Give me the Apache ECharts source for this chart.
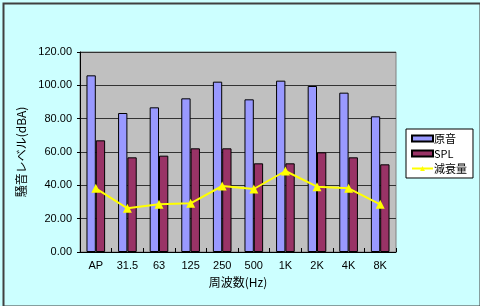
<!DOCTYPE html>
<html><head><meta charset="utf-8">
<script src="https://cdn.jsdelivr.net/npm/echarts@6/dist/echarts.min.js"></script>
<style>html,body{margin:0;padding:0;background:#CCFFFF;}#c{width:480px;height:306px;}</style>
</head><body><div id="c"></div>
<script>
const categories = ['AP','31.5','63','125','250','500','1K','2K','4K','8K'];
const original = [106.0, 83.4, 86.8, 92.2, 102.2, 91.6, 102.8, 99.6, 95.6, 81.4];
const spl = [67.0, 56.8, 57.8, 62.2, 62.2, 53.2, 53.2, 59.8, 56.8, 52.6];
const attenuation = [38.2, 26.2, 28.6, 29.2, 39.6, 37.8, 48.6, 39.2, 38.2, 28.6];
const seriesNames = ['原音','SPL','減衰量'];
const yTicks = { min: 0, max: 120, interval: 20 };

const latin = "'Liberation Sans', Arial, 'Noto Sans CJK JP', sans-serif";
const cjk = "'Noto Sans CJK JP', 'Liberation Sans', sans-serif";

const chart = echarts.init(document.getElementById('c'), null, {renderer:'canvas'});
chart.setOption({
  animation: false,
  backgroundColor: '#CCFFFF',
  graphic: [{
    type: 'rect', left: 1, top: 1, silent: true,
    shape: { x: 0, y: 0, width: 477, height: 303 },
    style: { fill: 'none', stroke: '#404040', lineWidth: 2 }
  }],
  grid: {
    left: 80, top: 52, width: 316, height: 200,
    show: true, backgroundColor: '#C0C0C0', borderColor: '#808080', borderWidth: 1
  },
  legend: {
    orient: 'vertical', left: 406, top: 129,
    backgroundColor: '#FFFFFF', borderColor: '#000000', borderWidth: 1, borderRadius: 0,
    padding: [4, 6, 4, 5], itemGap: 4, itemWidth: 21, itemHeight: 6,
    textStyle: { fontFamily: cjk, fontSize: 11, color: '#000', padding: [0,0,0,-4] },
    data: [
      { name: seriesNames[0], icon: 'rect' },
      { name: seriesNames[1], icon: 'rect' },
      { name: seriesNames[2] }
    ]
  },
  xAxis: {
    type: 'category', data: categories,
    name: '周波数(Hz)', nameLocation: 'middle', nameGap: 24,
    nameTextStyle: { fontFamily: cjk, fontSize: 12, color: '#000' },
    axisLine: { show: true, lineStyle: { color: '#000', width: 1 } },
    axisTick: { show: true, inside: true, length: 4, lineStyle: { color: '#000' } },
    axisLabel: { fontFamily: latin, fontSize: 11, color: '#000', margin: 8 },
    splitLine: { show: false }
  },
  yAxis: {
    type: 'value', min: yTicks.min, max: yTicks.max, interval: yTicks.interval,
    name: '騒音レベル(dBA)', nameLocation: 'middle', nameGap: 48, nameRotate: 90,
    nameTextStyle: { fontFamily: cjk, fontSize: 12, color: '#000' },
    axisLine: { show: true, lineStyle: { color: '#000', width: 1 } },
    axisTick: { show: true, length: 3, lineStyle: { color: '#000' } },
    axisLabel: { fontFamily: latin, fontSize: 11, color: '#000', margin: 8,
      formatter: v => v.toFixed(2) },
    splitLine: { show: true, lineStyle: { color: '#333333', width: 1 } }
  },
  series: [
    { name: seriesNames[0], type: 'bar', data: original, barGap: '0%', barCategoryGap: '41%',
      itemStyle: { color: '#9999FF', borderColor: '#000', borderWidth: 1 } },
    { name: seriesNames[1], type: 'bar', data: spl, barGap: '0%', barCategoryGap: '41%',
      itemStyle: { color: '#993366', borderColor: '#000', borderWidth: 1 } },
    { name: seriesNames[2], type: 'line', data: attenuation,
      symbol: 'triangle', symbolSize: 9, showSymbol: true,
      lineStyle: { color: '#FFFF00', width: 2 },
      itemStyle: { color: '#FFFF00' } }
  ]
});
</script></body></html>
